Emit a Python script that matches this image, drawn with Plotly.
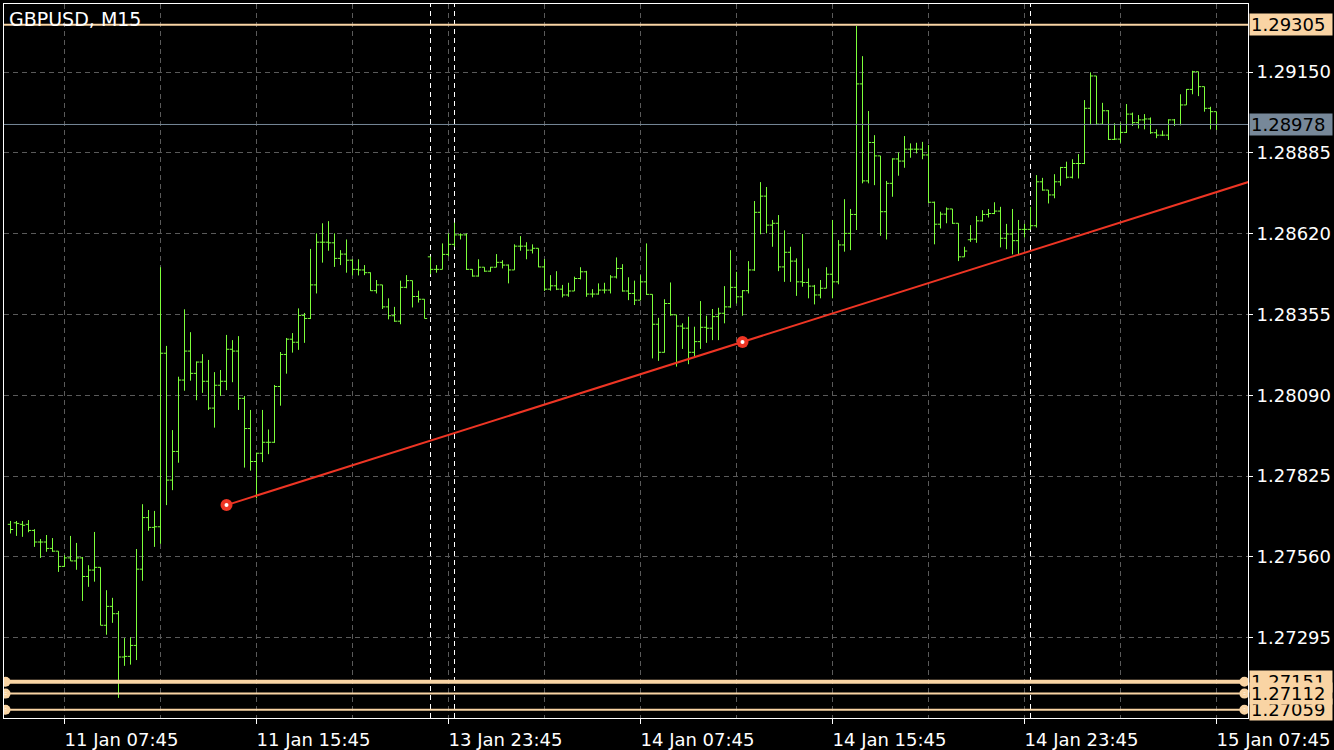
import plotly.graph_objects as go

SYMBOL = "GBPUSD, M15"

# OHLC per M15 bar, oldest first
bar_open = [
    1.27667, 1.27672, 1.27667, 1.27667, 1.27647, 1.27609, 1.27609, 1.27588, 1.27579, 1.27529,
    1.27557, 1.27547, 1.27557, 1.27496, 1.27517, 1.27526, 1.27336, 1.27398, 1.27374, 1.27232,
    1.27234, 1.27270, 1.27520, 1.27689, 1.27657, 1.27659, 1.28228, 1.27812, 1.27906, 1.28140,
    1.28235, 1.28162, 1.28199, 1.28136, 1.28048, 1.28123, 1.28136, 1.28241, 1.28235, 1.28080,
    1.27981, 1.27873, 1.27900, 1.27936, 1.27936, 1.28119, 1.28224, 1.28274, 1.28264, 1.28352,
    1.28342, 1.28452, 1.28592, 1.28592, 1.28590, 1.28539, 1.28553, 1.28533, 1.28503, 1.28501,
    1.28492, 1.28433, 1.28452, 1.28380, 1.28351, 1.28333, 1.28444, 1.28466, 1.28414, 1.28405,
    1.28544, 1.28503, 1.28503, 1.28552, 1.28585, 1.28616, 1.28616, 1.28503, 1.28481, 1.28510,
    1.28497, 1.28510, 1.28526, 1.28517, 1.28501, 1.28579, 1.28579, 1.28566, 1.28572, 1.28511,
    1.28438, 1.28449, 1.28438, 1.28419, 1.28432, 1.28473, 1.28495, 1.28422, 1.28422, 1.28435,
    1.28435, 1.28478, 1.28506, 1.28432, 1.28424, 1.28402, 1.28462, 1.28421, 1.28323, 1.28231,
    1.28391, 1.28354, 1.28317, 1.28310, 1.28231, 1.28266, 1.28313, 1.28310, 1.28348, 1.28359,
    1.28380, 1.28444, 1.28413, 1.28433, 1.28501, 1.28690, 1.28743, 1.28648, 1.28654, 1.28511,
    1.28559, 1.28530, 1.28462, 1.28460, 1.28448, 1.28419, 1.28441, 1.28487, 1.28462, 1.28583,
    1.28621, 1.28683, 1.29111, 1.28793, 1.28919, 1.28875, 1.28692, 1.28785, 1.28865, 1.28858,
    1.28897, 1.28897, 1.28897, 1.28878, 1.28723, 1.28651, 1.28684, 1.28701, 1.28654, 1.28544,
    1.28600, 1.28602, 1.28662, 1.28683, 1.28686, 1.28694, 1.28605, 1.28619, 1.28597, 1.28634,
    1.28634, 1.28646, 1.28790, 1.28763, 1.28747, 1.28790, 1.28837, 1.28805, 1.28850, 1.28850,
    1.29031, 1.29137, 1.28979, 1.29023, 1.28929, 1.28930, 1.28952, 1.29012, 1.28984, 1.28993,
    1.28996, 1.28951, 1.28943, 1.28943, 1.28993, 1.28978, 1.29042, 1.29093, 1.29151, 1.29102,
    1.29031, 1.29020,
]
bar_high = [
    1.27678, 1.27678, 1.27678, 1.27681, 1.27651, 1.27619, 1.27632, 1.27622, 1.27579, 1.27566,
    1.27629, 1.27606, 1.27560, 1.27533, 1.27642, 1.27526, 1.27451, 1.27426, 1.27383, 1.27294,
    1.27297, 1.27586, 1.27733, 1.27714, 1.27711, 1.28510, 1.28252, 1.27976, 1.28151, 1.28372,
    1.28297, 1.28201, 1.28225, 1.28206, 1.28166, 1.28173, 1.28288, 1.28271, 1.28284, 1.28088,
    1.28042, 1.27902, 1.28042, 1.27978, 1.28124, 1.28232, 1.28278, 1.28294, 1.28375, 1.28360,
    1.28570, 1.28621, 1.28654, 1.28661, 1.28621, 1.28566, 1.28601, 1.28536, 1.28536, 1.28517,
    1.28493, 1.28468, 1.28452, 1.28408, 1.28380, 1.28466, 1.28484, 1.28466, 1.28433, 1.28405,
    1.28544, 1.28517, 1.28588, 1.28621, 1.28656, 1.28621, 1.28621, 1.28503, 1.28536, 1.28510,
    1.28511, 1.28553, 1.28533, 1.28519, 1.28585, 1.28612, 1.28592, 1.28585, 1.28572, 1.28537,
    1.28484, 1.28497, 1.28452, 1.28459, 1.28479, 1.28510, 1.28498, 1.28438, 1.28457, 1.28459,
    1.28484, 1.28542, 1.28520, 1.28477, 1.28466, 1.28484, 1.28588, 1.28421, 1.28344, 1.28405,
    1.28460, 1.28354, 1.28326, 1.28348, 1.28315, 1.28399, 1.28351, 1.28373, 1.28377, 1.28448,
    1.28566, 1.28495, 1.28435, 1.28530, 1.28727, 1.28789, 1.28773, 1.28665, 1.28681, 1.28631,
    1.28577, 1.28539, 1.28619, 1.28506, 1.28452, 1.28468, 1.28510, 1.28665, 1.28599, 1.28733,
    1.28701, 1.29301, 1.29202, 1.29022, 1.28943, 1.28875, 1.28793, 1.28867, 1.28886, 1.28940,
    1.28916, 1.28918, 1.28921, 1.28911, 1.28725, 1.28692, 1.28706, 1.28701, 1.28654, 1.28577,
    1.28648, 1.28678, 1.28697, 1.28701, 1.28723, 1.28708, 1.28652, 1.28701, 1.28665, 1.28652,
    1.28708, 1.28812, 1.28803, 1.28763, 1.28815, 1.28839, 1.28856, 1.28864, 1.28881, 1.29058,
    1.29149, 1.29137, 1.29049, 1.29025, 1.28982, 1.28984, 1.29045, 1.29017, 1.29009, 1.29012,
    1.29001, 1.28962, 1.28958, 1.28995, 1.28996, 1.29077, 1.29094, 1.29154, 1.29151, 1.29102,
    1.29036, 1.29020,
]
bar_low = [
    1.27637, 1.27629, 1.27626, 1.27641, 1.27593, 1.27557, 1.27577, 1.27577, 1.27511, 1.27528,
    1.27547, 1.27518, 1.27416, 1.27462, 1.27479, 1.27336, 1.27305, 1.27344, 1.27098, 1.27203,
    1.27207, 1.27222, 1.27482, 1.27646, 1.27593, 1.27603, 1.27730, 1.27779, 1.27869, 1.28105,
    1.28138, 1.28074, 1.28098, 1.28042, 1.27984, 1.28088, 1.28107, 1.28133, 1.28042, 1.27853,
    1.27843, 1.27752, 1.27871, 1.27897, 1.27934, 1.28056, 1.28161, 1.28230, 1.28239, 1.28262,
    1.28340, 1.28424, 1.28525, 1.28564, 1.28511, 1.28517, 1.28492, 1.28483, 1.28483, 1.28484,
    1.28432, 1.28424, 1.28373, 1.28339, 1.28331, 1.28323, 1.28441, 1.28378, 1.28394, 1.28342,
    1.28487, 1.28492, 1.28503, 1.28546, 1.28577, 1.28601, 1.28501, 1.28479, 1.28479, 1.28495,
    1.28495, 1.28510, 1.28506, 1.28457, 1.28501, 1.28564, 1.28536, 1.28555, 1.28510, 1.28432,
    1.28433, 1.28435, 1.28411, 1.28413, 1.28432, 1.28470, 1.28413, 1.28411, 1.28420, 1.28424,
    1.28424, 1.28473, 1.28430, 1.28402, 1.28386, 1.28402, 1.28419, 1.28211, 1.28203, 1.28230,
    1.28351, 1.28184, 1.28242, 1.28192, 1.28214, 1.28242, 1.28262, 1.28271, 1.28271, 1.28326,
    1.28377, 1.28391, 1.28351, 1.28424, 1.28498, 1.28618, 1.28621, 1.28577, 1.28497, 1.28462,
    1.28462, 1.28416, 1.28446, 1.28408, 1.28388, 1.28408, 1.28441, 1.28408, 1.28454, 1.28561,
    1.28566, 1.28632, 1.28785, 1.28785, 1.28779, 1.28613, 1.28601, 1.28741, 1.28810, 1.28836,
    1.28869, 1.28883, 1.28864, 1.28721, 1.28585, 1.28637, 1.28654, 1.28652, 1.28530, 1.28544,
    1.28593, 1.28590, 1.28660, 1.28673, 1.28684, 1.28575, 1.28569, 1.28552, 1.28552, 1.28607,
    1.28634, 1.28640, 1.28761, 1.28719, 1.28736, 1.28777, 1.28801, 1.28801, 1.28801, 1.28848,
    1.28976, 1.28976, 1.28979, 1.28927, 1.28927, 1.28918, 1.28950, 1.28973, 1.28965, 1.28962,
    1.28947, 1.28933, 1.28940, 1.28927, 1.28973, 1.28975, 1.29042, 1.29077, 1.29071, 1.29020,
    1.28962, 1.28960,
]
bar_close = [
    1.27650, 1.27670, 1.27664, 1.27647, 1.27609, 1.27609, 1.27588, 1.27579, 1.27529, 1.27557,
    1.27547, 1.27557, 1.27496, 1.27517, 1.27526, 1.27336, 1.27398, 1.27374, 1.27232, 1.27234,
    1.27270, 1.27520, 1.27689, 1.27657, 1.27659, 1.28228, 1.27812, 1.27906, 1.28140, 1.28235,
    1.28162, 1.28199, 1.28136, 1.28048, 1.28123, 1.28136, 1.28241, 1.28235, 1.28080, 1.27981,
    1.27873, 1.27900, 1.27936, 1.27936, 1.28119, 1.28224, 1.28274, 1.28264, 1.28352, 1.28342,
    1.28452, 1.28592, 1.28592, 1.28590, 1.28539, 1.28553, 1.28533, 1.28503, 1.28501, 1.28492,
    1.28433, 1.28452, 1.28380, 1.28351, 1.28333, 1.28444, 1.28466, 1.28414, 1.28405, 1.28342,
    1.28503, 1.28503, 1.28552, 1.28585, 1.28616, 1.28616, 1.28503, 1.28481, 1.28510, 1.28497,
    1.28510, 1.28526, 1.28517, 1.28501, 1.28579, 1.28579, 1.28566, 1.28572, 1.28511, 1.28438,
    1.28449, 1.28438, 1.28419, 1.28432, 1.28473, 1.28495, 1.28422, 1.28422, 1.28435, 1.28435,
    1.28478, 1.28506, 1.28432, 1.28424, 1.28402, 1.28462, 1.28421, 1.28323, 1.28231, 1.28391,
    1.28354, 1.28317, 1.28310, 1.28231, 1.28266, 1.28313, 1.28310, 1.28348, 1.28359, 1.28380,
    1.28444, 1.28413, 1.28433, 1.28501, 1.28690, 1.28743, 1.28648, 1.28654, 1.28511, 1.28559,
    1.28530, 1.28462, 1.28460, 1.28448, 1.28419, 1.28441, 1.28487, 1.28462, 1.28583, 1.28621,
    1.28683, 1.29111, 1.28793, 1.28919, 1.28875, 1.28692, 1.28785, 1.28865, 1.28858, 1.28897,
    1.28897, 1.28897, 1.28878, 1.28723, 1.28651, 1.28684, 1.28701, 1.28654, 1.28544, 1.28563,
    1.28602, 1.28662, 1.28683, 1.28686, 1.28694, 1.28605, 1.28619, 1.28597, 1.28634, 1.28634,
    1.28646, 1.28790, 1.28763, 1.28747, 1.28790, 1.28837, 1.28805, 1.28850, 1.28850, 1.29031,
    1.29137, 1.28979, 1.29023, 1.28929, 1.28930, 1.28952, 1.29012, 1.28984, 1.28993, 1.28996,
    1.28951, 1.28943, 1.28943, 1.28993, 1.28978, 1.29042, 1.29093, 1.29151, 1.29102, 1.29031,
    1.29020, 1.28978,
]

# time axis (bar index of each labelled tick), day separators
tick_idx = [9, 41, 73, 105, 137, 169, 201]
tick_text = ["11 Jan 07:45", "11 Jan 15:45", "13 Jan 23:45", "14 Jan 07:45",
             "14 Jan 15:45", "14 Jan 23:45", "15 Jan 07:45"]
grid_idx = [25, 57, 89, 121, 153, 185]
day_sep_idx = [70, 74, 170]

price_ticks = [1.29150, 1.28885, 1.28620, 1.28355, 1.28090, 1.27825, 1.27560, 1.27295]
price_range = [1.27032, 1.29373]
# half-pixel offset so 1px bar strokes land on whole pixels
x_range = [-1.083, 206.25]

# objects on the chart
top_level = 1.29305
bid_price = 1.28978
support_levels = [1.27151, 1.27059, 1.27112]
support_widths = [4, 2, 2]
trend_idx = [36, 122]
trend_price = [1.27730, 1.28265]

BAR_C = "#7CFF3A"
PEACH = "#F9D4A4"
BID_C = "#778899"
GRID_C = "#5a5a5a"
TREND_C = "#EE3524"
FONT = "DejaVu Sans"

x = list(range(len(bar_close)))

fig = go.Figure()
fig.add_trace(go.Ohlc(
    x=x, open=bar_open, high=bar_high, low=bar_low, close=bar_close,
    increasing=dict(line=dict(color=BAR_C, width=1)),
    decreasing=dict(line=dict(color=BAR_C, width=1)),
    tickwidth=0.45, hoverinfo="skip",
))

# day separators and horizontal objects
for i in day_sep_idx:
    fig.add_vline(x=i, line=dict(color="white", width=1, dash="5px,4px"), layer="below")
fig.add_hline(y=bid_price, line=dict(color=BID_C, width=1))
fig.add_hline(y=top_level, line=dict(color=PEACH, width=2))
for lv, w in zip(support_levels, support_widths):
    fig.add_hline(y=lv, line=dict(color=PEACH, width=w))

# selected-line anchor dots at both chart edges
edge_x = [x_range[0] + 0.25, x_range[1] - 0.6]
for lv in support_levels:
    fig.add_trace(go.Scatter(x=edge_x, y=[lv, lv], mode="markers",
                             marker=dict(color=PEACH, size=10), hoverinfo="skip"))
    fig.add_trace(go.Scatter(x=edge_x, y=[lv, lv], mode="markers",
                             marker=dict(color="white", size=3), hoverinfo="skip"))

# trend line (ray to the right edge)
slope = (trend_price[1] - trend_price[0]) / (trend_idx[1] - trend_idx[0])
ray_x = [trend_idx[0], x_range[1] + 1]
ray_y = [trend_price[0], trend_price[0] + slope * (ray_x[1] - trend_idx[0])]
fig.add_trace(go.Scatter(x=ray_x, y=ray_y, mode="lines",
                         line=dict(color=TREND_C, width=2), hoverinfo="skip"))
fig.add_trace(go.Scatter(x=trend_idx, y=trend_price, mode="markers",
                         marker=dict(color=TREND_C, size=12), hoverinfo="skip"))
fig.add_trace(go.Scatter(x=trend_idx, y=trend_price, mode="markers",
                         marker=dict(color="white", size=4), hoverinfo="skip"))

# price label boxes on the right scale
boxes = [(top_level, PEACH)] + [(bid_price, BID_C)] + [(lv, PEACH) for lv in support_levels]
for val, bg in boxes:
    fig.add_annotation(x=1, xref="paper", xanchor="left", xshift=1, y=val, yref="y",
                       text=f"{val:.5f}", showarrow=False, bgcolor=bg, borderpad=1,
                       width=80, height=19, align="left",
                       font=dict(family=FONT, size=18, color="black"))

fig.add_annotation(x=0, xref="paper", y=1, yref="paper", xanchor="left", yanchor="top",
                   xshift=3, yshift=-2, text=SYMBOL, showarrow=False,
                   font=dict(family=FONT, size=19, color="white"))

fig.update_layout(
    width=1334, height=750,
    margin=dict(l=4, r=86, t=4, b=32),
    paper_bgcolor="black", plot_bgcolor="black",
    showlegend=False,
    font=dict(family=FONT, color="white", size=18),
)
fig.update_xaxes(
    range=x_range, rangeslider_visible=False, automargin=False,
    tickmode="array", tickvals=tick_idx, ticktext=tick_text,
    ticks="outside", ticklen=5, tickcolor="white", ticklabelshift=57,
    showgrid=True, gridcolor=GRID_C, griddash="5px,4px", gridwidth=1,
    minor=dict(tickmode="array", tickvals=grid_idx, showgrid=True,
               gridcolor=GRID_C, griddash="5px,4px", ticks=""),
    showline=True, mirror=True, linecolor="white", linewidth=1, zeroline=False,
    tickfont=dict(size=18),
)
fig.update_yaxes(
    side="right", range=price_range, automargin=False,
    tickmode="array", tickvals=price_ticks, tickformat=".5f",
    ticks="outside", ticklen=4, tickcolor="white",
    showgrid=True, gridcolor=GRID_C, griddash="5px,4px", gridwidth=1,
    showline=True, mirror=True, linecolor="white", linewidth=1, zeroline=False,
    tickfont=dict(size=18),
)

fig.write_html("out.html", config={"displayModeBar": False},
               post_script="document.body.style.margin='0';document.body.style.background='black';")
